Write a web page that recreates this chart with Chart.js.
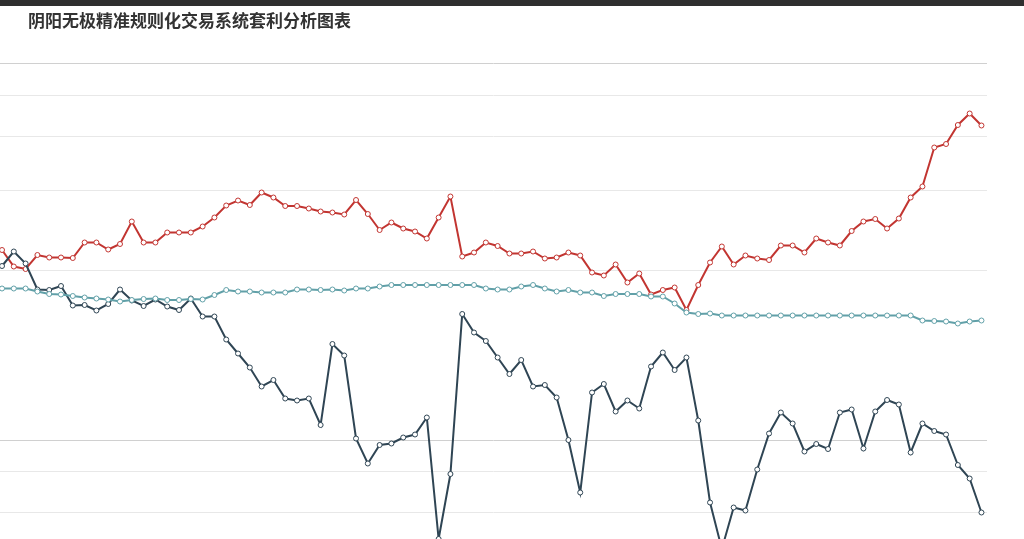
<!DOCTYPE html>
<html>
<head>
<meta charset="utf-8">
<script src="https://cdn.jsdelivr.net/npm/chart.js@4.4.1/dist/chart.umd.min.js"></script>
<style>
html, body { margin: 0; padding: 0; width: 1024px; height: 539px; overflow: hidden; background: #fff; }
#bar { position: absolute; left: 0; top: 0; width: 1024px; height: 6px; background: #2f2f2f; }
#title { position: absolute; left: 28px; top: 11px; font: bold 17px/17px "Noto Sans CJK SC", sans-serif; color: #333; white-space: nowrap; }
#wrap { position: absolute; left: 0; top: 0; width: 1024px; height: 563px; }
</style>
</head>
<body>
<div id="wrap"><canvas id="arb" width="1024" height="563"></canvas></div>
<div id="bar"></div>
<div id="title">阴阳无极精准规则化交易系统套利分析图表</div>
<script>
// values (no axis labels visible, arbitrary units 0-100)
const redLine = [62.6, 59.3, 58.8, 61.6, 61.1, 61.1, 61.0, 64.1, 64.1, 62.7,
    63.8, 68.3, 64.1, 64.1, 66.1, 66.1, 66.1, 67.3, 69.1, 71.5,
    72.5, 71.6, 74.1, 73.1, 71.4, 71.4, 70.9, 70.3, 70.1, 69.7,
    72.6, 69.8, 66.6, 68.1, 66.9, 66.3, 64.9, 69.1, 73.3, 61.3,
    62.1, 64.1, 63.4, 61.9, 61.9, 62.3, 60.9, 61.1, 62.1, 61.5,
    58.1, 57.5, 59.7, 56.1, 57.9, 53.7, 54.6, 55.1, 50.6, 55.6,
    60.1, 63.3, 59.7, 61.5, 60.9, 60.6, 63.5, 63.5, 62.1, 64.9,
    64.1, 63.5, 66.4, 68.3, 68.8, 66.9, 68.9, 73.1, 75.3, 83.1,
    83.8, 87.6, 89.9, 87.5];

const darkLine = [59.4, 62.3, 59.9, 54.7, 54.6, 55.4, 51.5, 51.6, 50.5, 51.8,
    54.7, 52.5, 51.4, 52.7, 51.3, 50.6, 52.9, 49.3, 49.3, 44.7,
    41.9, 39.1, 35.3, 36.6, 32.9, 32.5, 32.9, 27.6, 43.8, 41.5,
    24.9, 19.9, 23.6, 23.9, 25.1, 25.7, 29.1, 4.8, 17.8, 49.8,
    46.1, 44.4, 41.1, 37.8, 40.6, 35.3, 35.6, 33.1, 24.6, 14.1,
    34.1, 35.8, 30.3, 32.5, 30.9, 39.3, 42.1, 38.6, 41.1, 28.5,
    12.1, 2.8, 11.1, 10.5, 18.7, 25.9, 30.1, 27.9, 22.3, 23.8,
    22.8, 30.1, 30.7, 22.9, 30.3, 32.6, 31.7, 22.1, 27.9, 26.4,
    25.7, 19.6, 16.9, 10.1];

const tealLine = [54.9, 54.9, 54.9, 54.3, 53.8, 53.7, 53.4, 53.1, 52.9, 52.7,
    52.3, 52.6, 52.8, 52.9, 52.6, 52.6, 52.8, 52.7, 53.6, 54.6,
    54.3, 54.3, 54.1, 54.1, 54.1, 54.7, 54.7, 54.6, 54.7, 54.5,
    54.9, 54.9, 55.3, 55.6, 55.6, 55.6, 55.6, 55.6, 55.6, 55.6,
    55.6, 54.9, 54.7, 54.7, 55.3, 55.6, 54.9, 54.3, 54.6, 54.1,
    54.1, 53.4, 53.8, 53.8, 53.8, 53.3, 53.3, 51.9, 50.1, 49.8,
    49.9, 49.5, 49.5, 49.5, 49.5, 49.5, 49.5, 49.5, 49.5, 49.5,
    49.5, 49.5, 49.5, 49.5, 49.5, 49.5, 49.5, 49.5, 48.5, 48.4,
    48.3, 47.9, 48.3, 48.5];

const categories = redLine.map((v, i) => String(i + 1));

// horizontal split lines
const gridTicks = [100, 93.5, 85.3, 74.6, 58.5, 24.6, 18.3, 10.1];
const strongTicks = [100, 24.6];

const toPoints = arr => arr.map((v, i) => ({ x: i, y: v }));

function lineSet(label, values, color, order) {
    return {
        label: label,
        data: toPoints(values),
        borderColor: color,
        borderWidth: 2,
        pointRadius: 2.5,
        pointBorderWidth: 1,
        pointBorderColor: color,
        pointBackgroundColor: '#fff',
        tension: 0,
        order: order
    };
}

const ctx = document.getElementById('arb').getContext('2d');

const arbChart = new Chart(ctx, {
    type: 'line',
    data: {
        labels: categories,
        datasets: [
            lineSet('A', redLine, '#c23531', 3),
            lineSet('B', darkLine, '#2f4554', 2),
            lineSet('C', tealLine, '#61a0a8', 1)
        ]
    },
    options: {
        responsive: false,
        animation: false,
        layout: { autoPadding: false, padding: { top: 63, left: 0, right: 37, bottom: 0 } },
        plugins: {
            legend: { display: false },
            tooltip: { enabled: false }
        },
        scales: {
            x: {
                type: 'linear',
                display: false,
                min: -0.17,
                max: 83.47
            },
            y: {
                min: 0,
                max: 100,
                border: { display: false },
                ticks: { display: false },
                grid: {
                    drawTicks: false,
                    color: c => strongTicks.includes(c.tick.value) ? '#d0d0d0' : '#e8e8e8'
                },
                afterBuildTicks: axis => {
                    axis.ticks = gridTicks.map(v => ({ value: v }));
                }
            }
        }
    }
});
</script>
</body>
</html>
